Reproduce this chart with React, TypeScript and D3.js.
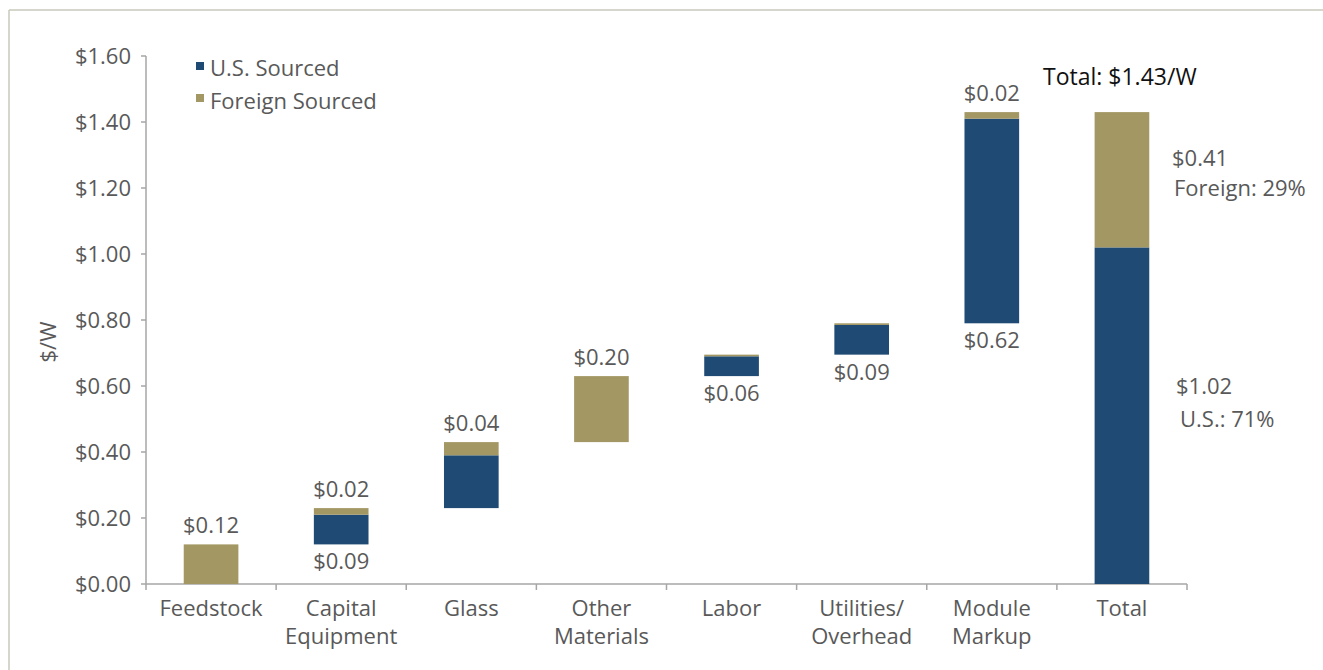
import React from "react";
import * as d3 from "d3";

// data
const categories = ["Feedstock", "Capital|Equipment", "Glass", "Other|Materials", "Labor", "Utilities/|Overhead", "Module|Markup"];
const usValues = [0, 0.09, 0.16, 0, 0.06, 0.09, 0.62];
const foreignValues = [0.12, 0.02, 0.04, 0.2, 0.005, 0.005, 0.02];
const usLabels = ["", "$0.09", "", "", "$0.06", "$0.09", "$0.62"];
const foreignLabels = ["$0.12", "$0.02", "$0.04", "$0.20", "", "", "$0.02"];
const totalUs = 1.02;
const totalForeign = 0.41;
const yTicks = [0, 0.2, 0.4, 0.6, 0.8, 1.0, 1.2, 1.4, 1.6];

const BLUE = "#1f4a73";
const TAN = "#a39763";
const TEXT = "#595959";
const AXIS = "#a6a6a6";
const FONT = "'Open Sans', 'Noto Sans', sans-serif";
const FS = 22;

const W = 1323;
const H = 670;
const left = 146, right = 1187, top = 56, bottom = 584;

export default function App() {
  const allCats = [...categories, "Total"];
  const x = d3.scaleBand<string>().domain(allCats).range([left, right]).paddingInner(0.58).paddingOuter(0.29);
  const y = d3.scaleLinear().domain([0, 1.6]).range([bottom, top]);

  // running base of the waterfall
  let base = 0;
  const steps = categories.map((c, i) => {
    const us0 = base;
    const us1 = us0 + usValues[i];
    const f1 = us1 + foreignValues[i];
    base = f1;
    return { c, us0, us1, f1, i };
  });

  const bw = x.bandwidth();
  const boundaries = d3.range(allCats.length + 1).map((i) => left + i * ((right - left) / allCats.length));
  const cx = (c: string) => (x(c) as number) + bw / 2;

  return (
    <svg width={W} height={H} style={{ position: "absolute", left: 0, top: 0, background: "#fff" }} fontFamily={FONT}>
      {/* frame lines */}
      <line x1={9} x2={W} y1={10} y2={10} stroke="#c9c9bd" strokeWidth={1.5} />
      <line x1={9} x2={9} y1={10} y2={H} stroke="#c9c9bd" strokeWidth={1.5} />

      {/* y axis */}
      <line x1={left} x2={left} y1={top} y2={bottom} stroke={AXIS} strokeWidth={1.5} />
      {yTicks.map((t) => (
        <g key={t}>
          <line x1={left - 5} x2={left} y1={y(t)} y2={y(t)} stroke={AXIS} strokeWidth={1.5} />
          <text x={left - 15} y={y(t)} dy="0.35em" textAnchor="end" fontSize={FS} fill={TEXT}>
            {d3.format("$.2f")(t)}
          </text>
        </g>
      ))}
      <text transform={`translate(56,342) rotate(-90)`} textAnchor="middle" fontSize={FS} fill={TEXT}>$/W</text>

      {/* x axis */}
      <line x1={left} x2={right} y1={bottom} y2={bottom} stroke={AXIS} strokeWidth={1.5} />
      {boundaries.map((b, i) => (
        <line key={i} x1={b} x2={b} y1={bottom} y2={bottom + 6} stroke={AXIS} strokeWidth={1.5} />
      ))}
      {allCats.map((c) => (
        <text key={c} x={cx(c)} y={616} textAnchor="middle" fontSize={FS} fill={TEXT}>
          {c.split("|").map((line, k) => (
            <tspan key={k} x={cx(c)} dy={k === 0 ? 0 : 28}>{line}</tspan>
          ))}
        </text>
      ))}

      {/* waterfall bars */}
      {steps.map((s) => (
        <g key={s.c}>
          {s.us1 > s.us0 && (
            <rect x={x(s.c)} width={bw} y={y(s.us1)} height={y(s.us0) - y(s.us1)} fill={BLUE} />
          )}
          <rect x={x(s.c)} width={bw} y={y(s.f1)} height={y(s.us1) - y(s.f1)} fill={TAN} />
          {foreignLabels[s.i] && (
            <text x={cx(s.c)} y={y(s.f1) - 11} textAnchor="middle" fontSize={FS} fill={TEXT}>{foreignLabels[s.i]}</text>
          )}
          {usLabels[s.i] && (
            <text x={cx(s.c)} y={y(s.us0) + 25} textAnchor="middle" fontSize={FS} fill={TEXT}>{usLabels[s.i]}</text>
          )}
        </g>
      ))}

      {/* total bar */}
      <rect x={x("Total")} width={bw} y={y(totalUs)} height={y(0) - y(totalUs)} fill={BLUE} />
      <rect x={x("Total")} width={bw} y={y(totalUs + totalForeign)} height={y(totalUs) - y(totalUs + totalForeign)} fill={TAN} />
      <text x={1043} y={85} fontSize={23} fill="#111">{`Total: ${d3.format("$.2f")(totalUs + totalForeign)}/W`}</text>
      <text x={1172} y={166} fontSize={FS} fill={TEXT}>{d3.format("$.2f")(totalForeign)}</text>
      <text x={1174} y={196} fontSize={FS} fill={TEXT}>Foreign: 29%</text>
      <text x={1176} y={394} fontSize={FS} fill={TEXT}>{d3.format("$.2f")(totalUs)}</text>
      <text x={1180} y={427} fontSize={FS} fill={TEXT}>U.S.: 71%</text>

      {/* legend */}
      <rect x={196} y={62} width={8} height={8} fill={BLUE} />
      <text x={210} y={76} fontSize={FS} fill={TEXT}>U.S. Sourced</text>
      <rect x={196} y={94} width={8} height={8} fill={TAN} />
      <text x={210} y={109} fontSize={FS} fill={TEXT}>Foreign Sourced</text>
    </svg>
  );
}
